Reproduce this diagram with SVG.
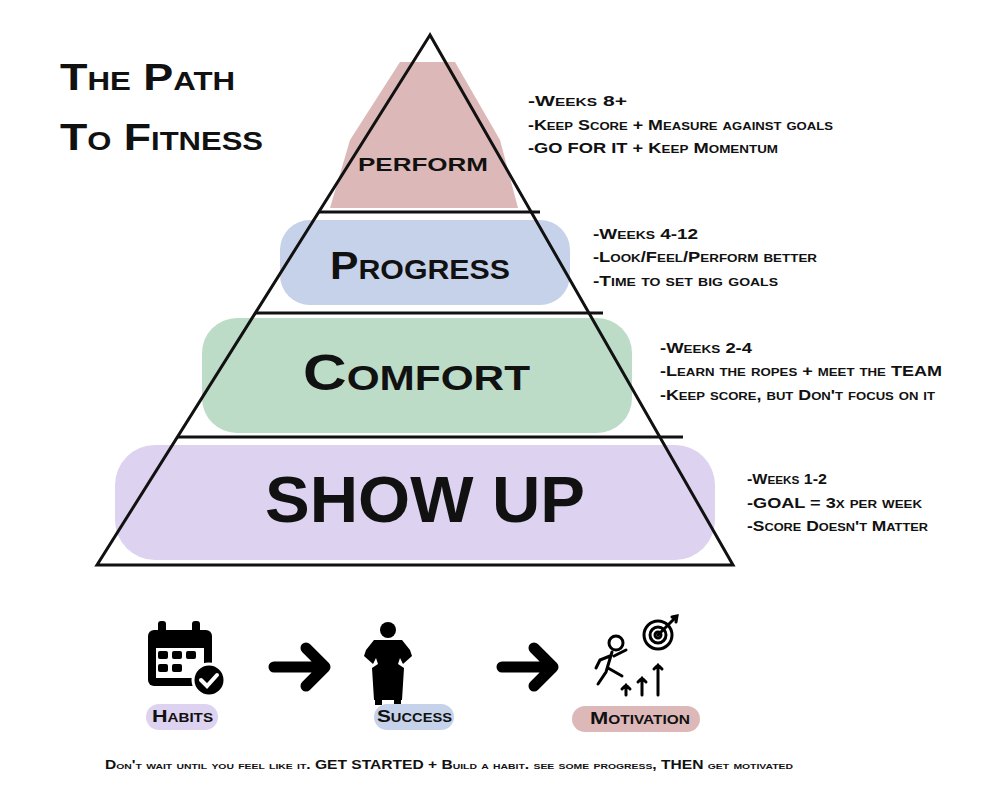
<svg xmlns="http://www.w3.org/2000/svg" width="985" height="786" viewBox="0 0 985 786">
<style>
text{font-family:"Liberation Sans",Arial,sans-serif;font-weight:bold;font-variant:small-caps;fill:#111}
.n{font-size:15px}
.t{font-size:36px}
.ln{stroke:#111;stroke-width:3;fill:none}
.ar{stroke:#000;stroke-width:11;stroke-linecap:round;stroke-linejoin:round;fill:none}
</style>
<rect width="985" height="786" fill="#fff"/>
<text class="t" x="60" y="90" textLength="175" lengthAdjust="spacingAndGlyphs">The Path</text>
<text class="t" x="60" y="150" textLength="203" lengthAdjust="spacingAndGlyphs">To Fitness</text>
<g id="fills">
<path d="M400 62 L455 62 L500 140 L518 208 L330 208 L350 140Z" fill="#dcb8b8"/>
<rect x="280" y="220" width="290" height="85" rx="30" fill="#c6d2ea"/>
<rect x="202" y="318" width="430" height="115" rx="35" fill="#bcdcc8"/>
<rect x="115" y="445" width="600" height="115" rx="40" fill="#ddd2f0"/>
</g>
<g id="pyramid">
<path class="ln" d="M430 35 L97 565 L733 565 Z"/>
<line class="ln" x1="318" y1="212" x2="540" y2="212"/>
<line class="ln" x1="255" y1="313" x2="603" y2="313"/>
<line class="ln" x1="177" y1="437" x2="683" y2="437"/>
</g>
<g id="perform"><text x="358" y="171" font-size="26" textLength="130" lengthAdjust="spacingAndGlyphs" fill="#3a1a22">perform</text></g>
<g id="progress"><text x="330" y="279" font-size="38" textLength="180" lengthAdjust="spacingAndGlyphs" fill="#1c2244">Progress</text></g>
<g id="comfort"><text x="303" y="390" font-size="50" textLength="227" lengthAdjust="spacingAndGlyphs" fill="#142a20">Comfort</text></g>
<g id="showup"><text x="265" y="522" font-size="64" textLength="320" lengthAdjust="spacingAndGlyphs" fill="#221a33">SHOW UP</text></g>
<g id="notes">
<text class="n" x="528" y="106" textLength="99" lengthAdjust="spacingAndGlyphs">-Weeks 8+</text>
<text class="n" x="528" y="130" textLength="305" lengthAdjust="spacingAndGlyphs">-Keep Score + Measure against goals</text>
<text class="n" x="528" y="153" textLength="250" lengthAdjust="spacingAndGlyphs">-GO FOR IT + Keep Momentum</text>
<text class="n" x="593" y="239" textLength="105" lengthAdjust="spacingAndGlyphs">-Weeks 4-12</text>
<text class="n" x="593" y="262" textLength="224" lengthAdjust="spacingAndGlyphs">-Look/Feel/Perform better</text>
<text class="n" x="593" y="286" textLength="185" lengthAdjust="spacingAndGlyphs">-Time to set big goals</text>
<text class="n" x="660" y="353" textLength="92" lengthAdjust="spacingAndGlyphs">-Weeks 2-4</text>
<text class="n" x="660" y="376" textLength="282" lengthAdjust="spacingAndGlyphs">-Learn the ropes + meet the TEAM</text>
<text class="n" x="660" y="400" textLength="275" lengthAdjust="spacingAndGlyphs">-Keep score, but Don't focus on it</text>
<text class="n" x="747" y="484" textLength="80" lengthAdjust="spacingAndGlyphs">-Weeks 1-2</text>
<text class="n" x="747" y="508" textLength="175" lengthAdjust="spacingAndGlyphs">-GOAL = 3x per week</text>
<text class="n" x="747" y="531" textLength="181" lengthAdjust="spacingAndGlyphs">-Score Doesn't Matter</text>
</g>
<g id="habits">
<rect x="148" y="630" width="64" height="56" rx="6" fill="#000"/>
<rect x="156" y="648" width="48" height="30" fill="#fff"/>
<rect x="158" y="621" width="8" height="16" rx="3" fill="#000"/>
<rect x="192" y="621" width="8" height="16" rx="3" fill="#000"/>
<g fill="#000"><rect x="158" y="651" width="10" height="8" rx="2"/><rect x="172" y="651" width="10" height="8" rx="2"/><rect x="186" y="651" width="10" height="8" rx="2"/><rect x="158" y="664" width="10" height="8" rx="2"/><rect x="172" y="664" width="10" height="8" rx="2"/></g>
<circle cx="209" cy="680" r="16" fill="#000" stroke="#fff" stroke-width="3"/>
<path d="M201 680 L207 686 L217 675" stroke="#fff" stroke-width="4" fill="none" stroke-linecap="round"/>
<rect x="146" y="704" width="72" height="26" rx="13" fill="#ddd2f0"/>
<text x="152" y="722" font-size="17" textLength="61" lengthAdjust="spacingAndGlyphs">Habits</text>
</g>
<g id="success">
<circle cx="388" cy="630" r="8" fill="#000"/>
<path d="M374 640 L402 640 L410 650 L412 656 L403 664 L400 658 L398 664 L404 668 L402 700 L374 700 L372 668 L378 664 L376 658 L373 664 L364 656 L366 650Z" fill="#000"/>
<rect x="375" y="700" width="7" height="5" fill="#000"/><rect x="394" y="700" width="7" height="5" fill="#000"/>
<rect x="374" y="704" width="80" height="26" rx="13" fill="#c6d2ea"/>
<text x="377" y="722" font-size="17" textLength="75" lengthAdjust="spacingAndGlyphs">Success</text>
</g>
<g id="motivation">
<g stroke="#000" stroke-width="3" fill="none" stroke-linecap="round">
<circle cx="616" cy="643" r="7"/>
<path d="M612 652 L606 672 L598 684 M608 668 L622 676 M610 656 L600 660 L596 668 M614 656 L626 650"/>
<circle cx="658" cy="635" r="14"/><circle cx="658" cy="635" r="8"/><circle cx="658" cy="635" r="3"/>
<path d="M658 635 L676 617 M672 617 L677 616 L676 622"/>
<path d="M626 695 L626 685 M622 689 L626 685 L630 689 M642 695 L642 678 M638 682 L642 678 L646 682 M658 695 L658 665 M654 669 L658 665 L662 669"/>
</g>
<rect x="572" y="706" width="128" height="26" rx="13" fill="#dcb8b8"/>
<text x="590" y="724" font-size="17" textLength="100" lengthAdjust="spacingAndGlyphs">Motivation</text>
</g>
<g id="connectors">
<path class="ar" d="M274 667 L322 667 M306 648 L325 667 L306 686"/>
<path class="ar" d="M502 667 L550 667 M534 648 L553 667 L534 686"/>
</g>
<text x="105" y="769" font-size="12" textLength="688" lengthAdjust="spacingAndGlyphs">Don't wait until you feel like it. GET STARTED + Build a habit. see some progress, THEN get motivated</text>
</svg>
